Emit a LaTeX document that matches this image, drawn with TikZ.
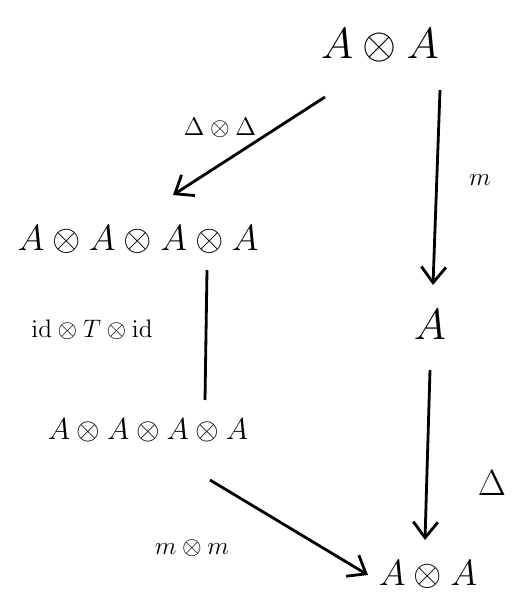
\documentclass[tikz,border=0pt]{standalone}
\usepackage{amsmath,amssymb}
\usetikzlibrary{arrows.meta,calc}

\begin{document}
\begin{tikzpicture}[x=0.02cm, y=-0.02cm, line width=1.6pt]
    \tikzset{obj/.style={inner sep=0pt},
             lbl/.style={inner sep=0pt, font=\fontsize{15}{18}\selectfont},
             map/.style={-{Straight Barb[length=9pt, width=14pt, line width=1.6pt]}}}
    \useasboundingbox (0,0) rectangle (519,613);
    % objects
    \node[obj, font=\fontsize{30}{34}\selectfont] (top) at (380,45)  {$A\otimes A$};
    \node[obj, font=\fontsize{20}{24}\selectfont] (ll)  at (138,240) {$A\otimes A\otimes A\otimes A$};
    \node[obj, font=\fontsize{30}{34}\selectfont] (r)   at (430,325) {$A$};
    \node[obj, font=\fontsize{18}{22}\selectfont] (ml)  at (148,430) {$A\otimes A\otimes A\otimes A$};
    \node[obj, font=\fontsize{21}{25}\selectfont] (br)  at (428,575) {$A\otimes A$};
    % maps
    \draw[map] ($(top)+(-55,52)$) -- ($(ll)+(35,-45)$);
    \draw[map] ($(top)+(60,45)$)  -- ($(r)+(3,-40)$);
    \draw      ($(ll)+(69,30)$)   -- ($(ml)+(57,-30)$);
    \draw[map] ($(r)+(0,45)$)     -- ($(br)+(-3,-35)$);
    \draw[map] ($(ml)+(62,50)$)   -- ($(br)+(-60,0)$);
    % labels
    \node[lbl] (d2)  at (220,128) {$\Delta\otimes\Delta$};
    \node[lbl] (m1)  at (480,180) {$m$};
    \node[lbl] (tw)  at (92,330)  {$\mathrm{id}\otimes T\otimes\mathrm{id}$};
    \node[lbl, font=\fontsize{22}{26}\selectfont] (d1) at (492,483) {$\Delta$};
    \node[lbl] (mm)  at (192,548) {$m\otimes m$};
\end{tikzpicture}
\end{document}
